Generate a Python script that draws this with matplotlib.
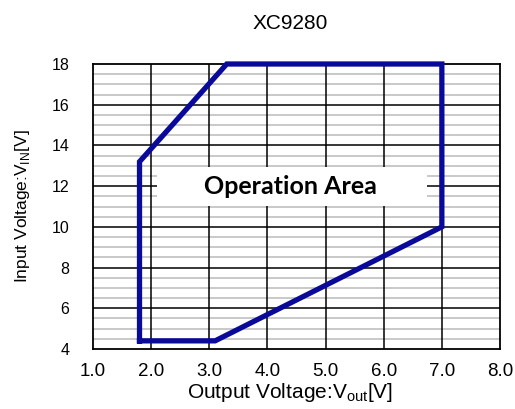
import matplotlib
matplotlib.use("Agg")
import matplotlib.pyplot as plt
from matplotlib.patches import Rectangle
import numpy as np

plt.rcParams['font.family'] = ['Liberation Sans', 'DejaVu Sans']

# Operation area boundary (Vout, Vin)
vout = [1.8, 1.8, 3.3, 7.0, 7.0, 3.1, 1.8]
vin = [4.4, 13.2, 18.0, 18.0, 10.0, 4.4, 4.4]

x_ticks = [1.0, 2.0, 3.0, 4.0, 5.0, 6.0, 7.0, 8.0]
x_tick_labels = ["1.0", "2.0", "3.0", "4.0", "5.0", "6.0", "7.0", "8.0"]
y_ticks = [4, 6, 8, 10, 12, 14, 16, 18]
y_minor = np.arange(4, 18.01, 0.5)

title = "XC9280"
area_label = "Operation Area"

fig = plt.figure(figsize=(5.15, 4.09), dpi=100)
ax = fig.add_axes([93/515, 1-349/409, 407/515, 285/409])

ax.set_xlim(1.0, 8.0)
ax.set_ylim(4, 18)
ax.set_xticks(x_ticks)
ax.set_xticklabels(x_tick_labels)
ax.set_yticks(y_ticks)
ax.set_yticks(y_minor, minor=True)
ax.tick_params(axis='both', which='both', length=0)
ax.tick_params(axis='x', labelsize=13.5, pad=10)
ax.tick_params(axis='y', labelsize=11.5, pad=17)

ax.set_axisbelow(True)
ax.grid(which='minor', axis='y', color='#c0c0c0', linewidth=1.2)
for xt in x_ticks[1:-1]:
    ax.axvline(xt, color='black', linewidth=1.1, zorder=0.7)
for yt in y_ticks[1:-1]:
    ax.axhline(yt, color='black', linewidth=1.1, zorder=0.7)

for s in ax.spines.values():
    s.set_color('black')
    s.set_linewidth(1.3)

ax.add_patch(Rectangle((2.1, 11.0), 4.65, 1.95, facecolor='white', edgecolor='none', zorder=1))
ax.text(4.4, 12.0, area_label, ha='center', va='center', fontsize=18,
        fontweight='bold', family=['Lato', 'DejaVu Sans'], zorder=2)

ax.plot(vout, vin, color='#0a0a9a', linewidth=3.8, solid_joinstyle='miter',
        zorder=4, clip_on=False)

ax.set_title(title, fontsize=15, pad=25, x=0.485)
ax.set_xlabel('Output Voltage:V$_{\\mathregular{out}}$[V]', fontsize=15, labelpad=1, x=0.485)
ax.set_ylabel('Input Voltage:V$_{\\mathregular{IN}}$[V]', fontsize=12.5, labelpad=14)

fig.savefig('out.png', dpi=100)
